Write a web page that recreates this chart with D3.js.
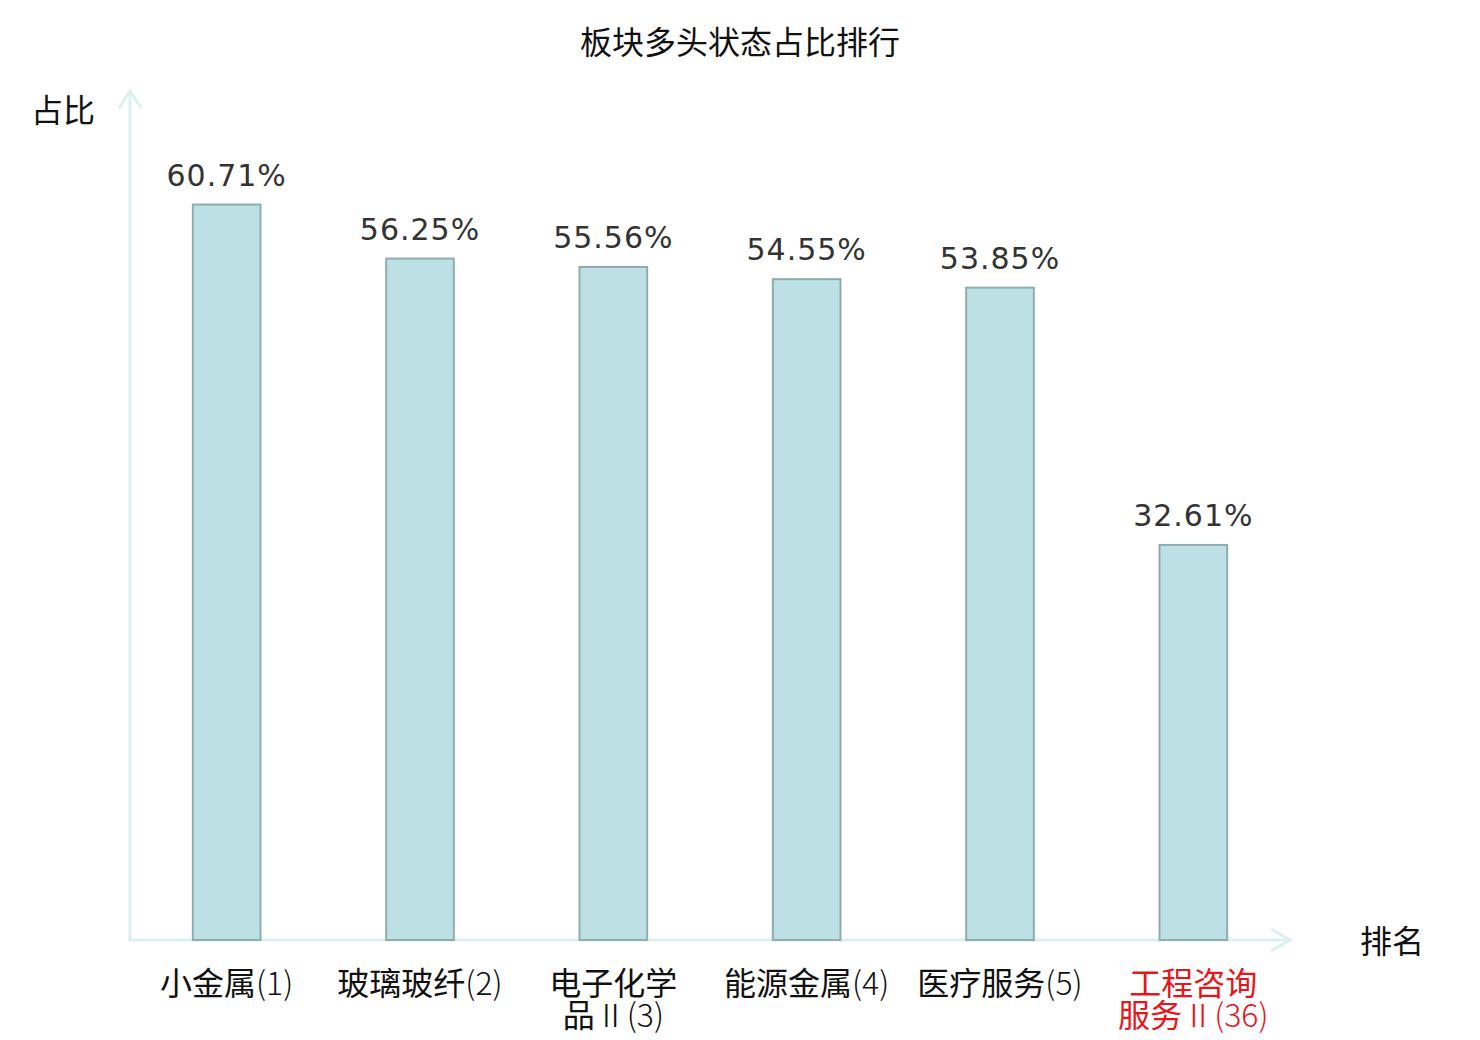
<!DOCTYPE html>
<html>
<head>
<meta charset="utf-8">
<script src="https://cdn.jsdelivr.net/npm/d3@7"></script>
<style>
  body { margin: 0; background: #fff; }
  text { font-family: "Noto Sans CJK SC", "DejaVu Sans", sans-serif; }
</style>
</head>
<body>
<svg id="chart" width="1480" height="1040"></svg>
<script>
// data
var sectors = ["小金属(1)", "玻璃玻纤(2)", "电子化学品Ⅱ(3)", "能源金属(4)", "医疗服务(5)", "工程咨询服务Ⅱ(36)"];
var ratios = [60.71, 56.25, 55.56, 54.55, 53.85, 32.61];
var labelColors = ["#111", "#111", "#111", "#111", "#111", "#e8151b"];

var svg = d3.select("#chart");

var x = d3.scaleBand()
    .domain(sectors)
    .range([130, 1290])
    .paddingInner(0.65)
    .paddingOuter(0.325);

var y = d3.scaleLinear()
    .domain([0, 70])
    .range([940, 92]);

var axisColor = "#dcf1ef";

// title
svg.append("text")
    .attr("x", 740)
    .attr("y", 54)
    .attr("text-anchor", "middle")
    .style("font-size", "32px")
    .style("fill", "#111")
    .text("板块多头状态占比排行");

// axes
svg.append("line")
    .attr("x1", 130).attr("y1", 940)
    .attr("x2", 130).attr("y2", 91)
    .style("stroke", axisColor).style("stroke-width", 3);
svg.append("path")
    .attr("d", "M119,108 L130,91 L141,108")
    .style("fill", "none").style("stroke", axisColor).style("stroke-width", 3);

svg.append("line")
    .attr("x1", 128).attr("y1", 940)
    .attr("x2", 1290).attr("y2", 940)
    .style("stroke", axisColor).style("stroke-width", 3);
svg.append("path")
    .attr("d", "M1271,929 L1290,940 L1271,951")
    .style("fill", "none").style("stroke", axisColor).style("stroke-width", 3);

svg.append("text")
    .attr("x", 63).attr("y", 122)
    .attr("text-anchor", "middle")
    .style("font-size", "32px").style("fill", "#111")
    .text("占比");

svg.append("text")
    .attr("x", 1392).attr("y", 953)
    .attr("text-anchor", "middle")
    .style("font-size", "32px").style("fill", "#111")
    .text("排名");

// bars
svg.selectAll("rect.bar")
    .data(sectors)
    .enter().append("rect")
    .attr("class", "bar")
    .attr("x", function(d) { return x(d); })
    .attr("y", function(d, i) { return y(ratios[i]); })
    .attr("width", x.bandwidth())
    .attr("height", function(d, i) { return y(0) - y(ratios[i]); })
    .style("fill", "#bce0e3")
    .style("stroke", "#8fadad")
    .style("stroke-width", 2);

// value labels
svg.selectAll("text.val")
    .data(sectors)
    .enter().append("text")
    .attr("class", "val")
    .attr("x", function(d) { return x(d) + x.bandwidth() / 2; })
    .attr("y", function(d, i) { return y(ratios[i]) - 19; })
    .attr("text-anchor", "middle")
    .style("font-family", "'DejaVu Sans', sans-serif")
    .style("font-size", "30px")
    .style("letter-spacing", "1px")
    .style("fill", "#333")
    .text(function(d, i) { return ratios[i].toFixed(2) + "%"; });

// category labels: long ones break after four characters
function splitLabel(s) {
    var cjk = s.replace(/[Ⅱ(].*$/, "");
    if (cjk.length > 4) return [s.slice(0, 4), s.slice(4)];
    return [s];
}

// the bracketed rank is drawn lighter, as in the picture
function fillLine(t, line) {
    var parts = line.match(/^([^Ⅱ(]*)(.*)$/);
    t.append("tspan").text(parts[1]);
    if (parts[2]) t.append("tspan").style("font-weight", 300).text(parts[2]);
}

sectors.forEach(function(d, i) {
    var cx = x(d) + x.bandwidth() / 2;
    splitLabel(d).forEach(function(l, j) {
        var t = svg.append("text")
            .attr("class", "tick-label")
            .attr("x", cx)
            .attr("y", 995 + j * 32)
            .attr("text-anchor", "middle")
            .style("font-size", "32px")
            .style("fill", labelColors[i]);
        fillLine(t, l);
    });
});
</script>
</body>
</html>
